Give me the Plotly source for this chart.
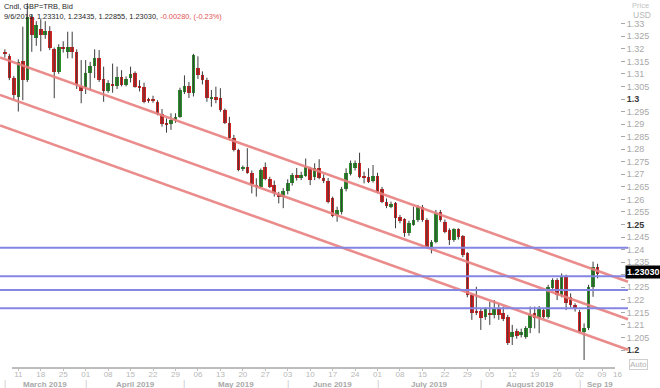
import pandas as pd
import plotly.graph_objects as go

# ---------------- data ----------------
dates = pd.bdate_range("2019-03-06", "2019-09-06")

opens = [
    1.3188, 1.3172, 1.3083,
    1.3009, 1.3152, 1.3076, 1.3328, 1.3242, 1.3278, 1.3255, 1.3272, 1.3198, 1.3109,
    1.3208, 1.3189, 1.3208, 1.3188, 1.3052, 1.3049, 1.3102, 1.3131, 1.3162, 1.3078,
    1.3033, 1.3060, 1.3052, 1.3089, 1.3056, 1.3082, 1.3102, 1.3052, 1.3047, 1.2998,
    1.2997, 1.2990, 1.2940, 1.2902, 1.2900, 1.2916, 1.2930, 1.3029, 1.3052, 1.3023,
    1.3122, 1.3096, 1.3076, 1.3003, 1.3009, 1.3003, 1.2956, 1.2906, 1.2843, 1.2797,
    1.2723, 1.2730, 1.2706, 1.2655, 1.2651, 1.2730, 1.2680, 1.2657, 1.2622, 1.2611,
    1.2635, 1.2667, 1.2697, 1.2686, 1.2695, 1.2724, 1.2690, 1.2724, 1.2684, 1.2675,
    1.2604, 1.2538, 1.2551, 1.2640, 1.2701, 1.2724, 1.2744, 1.2690, 1.2690, 1.2675,
    1.2693, 1.2640, 1.2591, 1.2571, 1.2584, 1.2529, 1.2521, 1.2465, 1.2498, 1.2518,
    1.2571, 1.2518, 1.2409, 1.2431, 1.2551, 1.2511, 1.2478, 1.2438, 1.2481, 1.2454,
    1.2385, 1.2219, 1.2152, 1.2157, 1.2130, 1.2145, 1.2139, 1.2166, 1.2146, 1.2133,
    1.2053, 1.2075, 1.2058, 1.2053, 1.2086, 1.2149, 1.2126, 1.2159, 1.2133, 1.2246,
    1.2279, 1.2219, 1.2292, 1.2212, 1.2179, 1.2153, 1.2073, 1.2086, 1.2252, 1.2331,
]
highs = [
    1.3198, 1.3180, 1.3092,
    1.3158, 1.3288, 1.3381, 1.3338, 1.3310, 1.3318, 1.3310, 1.3290, 1.3205, 1.3218,
    1.3230, 1.3268, 1.3268, 1.3198, 1.3155, 1.3155, 1.3148, 1.3198, 1.3195, 1.3129,
    1.3075, 1.3141, 1.3129, 1.3115, 1.3090, 1.3129, 1.3110, 1.3075, 1.3065, 1.3005,
    1.3013, 1.2995, 1.2960, 1.2923, 1.2943, 1.2943, 1.3045, 1.3094, 1.3068, 1.3180,
    1.3170, 1.3110, 1.3085, 1.3036, 1.3049, 1.3043, 1.2962, 1.2929, 1.2857, 1.2802,
    1.2735, 1.2804, 1.2715, 1.2684, 1.2723, 1.2747, 1.2690, 1.2675, 1.2630, 1.2645,
    1.2680, 1.2705, 1.2725, 1.2710, 1.2763, 1.2730, 1.2744, 1.2760, 1.2700, 1.2685,
    1.2611, 1.2571, 1.2650, 1.2724, 1.2755, 1.2755, 1.2786, 1.2710, 1.2724, 1.2737,
    1.2706, 1.2650, 1.2604, 1.2591, 1.2590, 1.2538, 1.2525, 1.2515, 1.2571, 1.2578,
    1.2578, 1.2525, 1.2438, 1.2558, 1.2558, 1.2520, 1.2485, 1.2485, 1.2485, 1.2458,
    1.2390, 1.2225, 1.2252, 1.2165, 1.2170, 1.2192, 1.2199, 1.2186, 1.2173, 1.2140,
    1.2100, 1.2085, 1.2085, 1.2095, 1.2173, 1.2173, 1.2175, 1.2165, 1.2260, 1.2286,
    1.2286, 1.2305, 1.2300, 1.2226, 1.2186, 1.2160, 1.2106, 1.2260, 1.2352, 1.23435,
]
lows = [
    1.3165, 1.3075, 1.2998,
    1.2950, 1.2995, 1.3068, 1.3188, 1.3212, 1.3190, 1.3240, 1.3195, 1.3003, 1.3100,
    1.3185, 1.3162, 1.3162, 1.3040, 1.2983, 1.3020, 1.3035, 1.3083, 1.3068, 1.2989,
    1.3025, 1.3025, 1.3040, 1.3050, 1.3050, 1.3066, 1.3045, 1.3030, 1.2983, 1.2985,
    1.2985, 1.2935, 1.2890, 1.2866, 1.2877, 1.2905, 1.2925, 1.3020, 1.3004, 1.3010,
    1.3080, 1.3058, 1.2989, 1.2969, 1.2983, 1.2949, 1.2900, 1.2837, 1.2791, 1.2712,
    1.2713, 1.2702, 1.2624, 1.2611, 1.2645, 1.2676, 1.2645, 1.2611, 1.2584, 1.2565,
    1.2620, 1.2655, 1.2675, 1.2677, 1.2690, 1.2657, 1.2677, 1.2680, 1.2665, 1.2584,
    1.2529, 1.2511, 1.2540, 1.2632, 1.2695, 1.2715, 1.2684, 1.2664, 1.2665, 1.2667,
    1.2624, 1.2585, 1.2565, 1.2565, 1.2485, 1.2505, 1.2451, 1.2455, 1.2495, 1.2510,
    1.2511, 1.2405, 1.2385, 1.2425, 1.2511, 1.2465, 1.2418, 1.2431, 1.2440, 1.2370,
    1.2210, 1.2120, 1.2139, 1.2080, 1.2120, 1.2100, 1.2126, 1.2120, 1.2115, 1.2020,
    1.2020, 1.2045, 1.2050, 1.2045, 1.2067, 1.2086, 1.2067, 1.2125, 1.2125, 1.2240,
    1.2199, 1.2210, 1.2159, 1.2170, 1.2153, 1.2067, 1.1960, 1.2080, 1.2212, 1.22855,
]
closes = [
    1.3178, 1.3083, 1.3016,
    1.3149, 1.3076, 1.3328, 1.3255, 1.3295, 1.3255, 1.3272, 1.3202, 1.3109, 1.3208,
    1.3198, 1.3208, 1.3189, 1.3056, 1.3033, 1.3102, 1.3131, 1.3162, 1.3076, 1.3033,
    1.3065, 1.3052, 1.3089, 1.3056, 1.3078, 1.3099, 1.3049, 1.3043, 1.2989, 1.2994,
    1.2992, 1.2942, 1.2900, 1.2897, 1.2916, 1.2930, 1.3036, 1.3052, 1.3023, 1.3175,
    1.3096, 1.3076, 1.3003, 1.3007, 1.2996, 1.2956, 1.2906, 1.2843, 1.2797, 1.2717,
    1.2727, 1.2706, 1.2661, 1.2651, 1.2717, 1.2680, 1.2651, 1.2624, 1.2611, 1.2635,
    1.2667, 1.2697, 1.2684, 1.2697, 1.2730, 1.2677, 1.2724, 1.2684, 1.2675, 1.2591,
    1.2534, 1.2558, 1.2640, 1.2704, 1.2746, 1.2744, 1.2688, 1.2688, 1.2670, 1.2693,
    1.2631, 1.2591, 1.2574, 1.2582, 1.2525, 1.2515, 1.2467, 1.2505, 1.2518, 1.2571,
    1.2518, 1.2412, 1.2431, 1.2547, 1.2518, 1.2471, 1.2438, 1.2481, 1.2451, 1.2378,
    1.2218, 1.2149, 1.2150, 1.2129, 1.2162, 1.2143, 1.2162, 1.2139, 1.2122, 1.2029,
    1.2073, 1.2055, 1.2073, 1.2086, 1.2139, 1.2126, 1.2166, 1.2133, 1.2252, 1.2279,
    1.2219, 1.2292, 1.2186, 1.2179, 1.2166, 1.2073, 1.2086, 1.2252, 1.2331, 1.2303,
]

# horizontal support / resistance levels
hline_levels = [1.2407, 1.2294, 1.2239, 1.2166]
# parallel trend channel: prices at two anchor dates
trend_anchor_dates = ["2019-03-11", "2019-09-06"]
trend_top = [1.31393, 1.23155]
trend_mid = [1.29899, 1.21661]
trend_bot = [1.28684, 1.20446]

last_price = 1.23030
header_1 = "Cndl, GBP=TRB, Bid"
header_2 = "9/6/2019, 1.23310, 1.23435, 1.22855, 1.23030, "
header_chg = "-0.00280, (-0.23%)"

y_ticks = [round(1.20 + 0.005 * i, 3) for i in range(27)]
major_ticks = [1.2, 1.25, 1.3]
month_names = {3: "March 2019", 4: "April 2019", 5: "May 2019", 6: "June 2019",
               7: "July 2019", 8: "August 2019", 9: "Sep 19"}

# ---------------- layout constants ----------------
W, H = 660, 388
ML, MR, MT, MB = 0, 40, 0, 20
PW = W - ML - MR
x_range = [-1.08, 137.0]
y_range = [1.19283, 1.33944]
line_end_paper = 628 / PW

FONT = "Liberation Sans, Arial, sans-serif"
RED, GREEN = "#d42222", "#2a8f2a"

idx = list(range(len(dates)))
pos = {d.strftime("%Y-%m-%d"): i for i, d in enumerate(dates)}

fig = go.Figure()

# wicks
wx, wy = [], []
for i, h, l in zip(idx, highs, lows):
    wx += [i, i, None]
    wy += [l, h, None]
fig.add_trace(go.Scatter(x=wx, y=wy, mode="lines", line=dict(color="#3c3c3c", width=1),
                         hoverinfo="skip"))

# bodies
bases, heights, cols = [], [], []
for o, c in zip(opens, closes):
    bases.append(min(o, c))
    heights.append(max(abs(c - o), 0.0004))
    cols.append(GREEN if c >= o else RED)
fig.add_trace(go.Bar(x=idx, y=heights, base=bases, width=0.8,
                     marker=dict(color=cols, line=dict(width=0)), hoverinfo="skip"))

shapes = []
# trend channel
span = x_range[1] - x_range[0]
i_end = x_range[0] + line_end_paper * span
for tl in (trend_top, trend_mid, trend_bot):
    i0, i1 = pos[trend_anchor_dates[0]], pos[trend_anchor_dates[1]]
    slope = (tl[1] - tl[0]) / (i1 - i0)
    ya = tl[0] + slope * (x_range[0] - i0)
    yb = tl[0] + slope * (i_end - i0)
    shapes.append(dict(type="line", xref="paper", yref="y", x0=0, x1=line_end_paper,
                       y0=ya, y1=yb, line=dict(color="rgba(232,128,128,0.9)", width=2.6)))
# horizontal levels
for lv in hline_levels:
    shapes.append(dict(type="line", xref="paper", yref="y", x0=0, x1=line_end_paper,
                       y0=lv, y1=lv, line=dict(color="#8585e2", width=2)))
# x axis baseline
shapes.append(dict(type="line", xref="paper", yref="paper", x0=12 / PW, x1=615 / PW,
                   y0=0, y1=0, line=dict(color="#7a7a7a", width=1)))

# x ticks: Mondays
ext_dates = pd.bdate_range("2019-03-06", "2019-09-20")
tickvals, ticktext = [], []
extra_ticks = []
for i, d in enumerate(ext_dates):
    if d.weekday() == 0:
        if x_range[0] <= i <= x_range[1]:
            tickvals.append(i)
            ticktext.append(d.strftime("%d"))
        else:
            extra_ticks.append((i, d.strftime("%d")))

annotations = []
for i, t in extra_ticks:
    annotations.append(dict(xref="paper", yref="paper", x=(i - x_range[0]) / span, y=0,
                            yanchor="middle", yshift=-6, text=t, showarrow=False,
                            font=dict(family=FONT, size=8, color="#b8b8b8")))

# month labels and separators
month_starts = []
for i, d in enumerate(ext_dates):
    if i == 0 or d.month != ext_dates[i - 1].month:
        month_starts.append((i, d.month))
for j, (i, m) in enumerate(month_starts):
    if m not in month_names:
        continue
    a = max(i, x_range[0])
    b = month_starts[j + 1][0] if j + 1 < len(month_starts) else x_range[1]
    b = min(b, x_range[1])
    if a >= x_range[1]:
        continue
    annotations.append(dict(xref="x", yref="paper", x=(a + b) / 2, y=0, yanchor="middle",
                            yshift=-16, text="<b>%s</b>" % month_names[m], showarrow=False,
                            font=dict(family=FONT, size=8, color="#a9a9a9")))
    if i > x_range[0]:
        annotations.append(dict(xref="x", yref="paper", x=i, y=0, yanchor="middle",
                                yshift=-16, text="|", showarrow=False,
                                font=dict(family=FONT, size=9, color="#c8c8c8")))

# header
annotations.append(dict(xref="paper", yref="paper", x=0, y=1, xanchor="left", yanchor="middle",
                        xshift=2, yshift=-6, text=header_1, showarrow=False,
                        font=dict(family=FONT, size=7.4, color="#262626")))
annotations.append(dict(xref="paper", yref="paper", x=0, y=1, xanchor="left", yanchor="middle",
                        xshift=2, yshift=-16,
                        text=header_2 + '<span style="color:#e05555">%s</span>' % header_chg,
                        showarrow=False, font=dict(family=FONT, size=7.4, color="#262626")))
# axis title
annotations.append(dict(xref="paper", yref="paper", x=1, y=1, xanchor="left", yanchor="top",
                        xshift=10, yshift=1, text="Price", showarrow=False,
                        font=dict(family=FONT, size=7.5, color="#c4c4c4")))
annotations.append(dict(xref="paper", yref="paper", x=1, y=1, xanchor="left", yanchor="middle",
                        xshift=11, yshift=-15, text="USD", showarrow=False,
                        font=dict(family=FONT, size=8.5, color="#b8b8b8")))
# last price box
annotations.append(dict(xref="paper", yref="y", x=1, y=last_price, xanchor="left",
                        yanchor="middle", xshift=5, yshift=2, text="<b>%.5f</b>" % last_price,
                        showarrow=False, bgcolor="#000000", borderpad=1,
                        font=dict(family=FONT, size=9, color="#ffffff")))
# auto box
annotations.append(dict(xref="paper", yref="paper", x=1, y=0, xanchor="left", yanchor="middle",
                        xshift=9, yshift=4, text="Auto", showarrow=False,
                        bordercolor="#cfcfcf", borderwidth=1, borderpad=0,
                        font=dict(family=FONT, size=8, color="#b0b0b0")))

ytext = []
for v in y_ticks:
    s = "%g" % v
    if abs(v - last_price) < 0.001:
        ytext.append("")  # hidden behind the last-price box
    elif any(abs(v - m) < 1e-9 for m in major_ticks):
        ytext.append('<span style="color:#3a3a3a"><b>%s</b></span>' % s)
    else:
        ytext.append(s)

fig.update_layout(
    width=W, height=H, margin=dict(l=ML, r=MR, t=MT, b=MB),
    paper_bgcolor="white", plot_bgcolor="white", showlegend=False,
    barmode="overlay", bargap=0,
    shapes=shapes, annotations=annotations,
    xaxis=dict(range=x_range, tickvals=tickvals, ticktext=ticktext, showgrid=False,
               zeroline=False, showline=False, ticks="outside", ticklen=2,
               tickcolor="#c0c0c0", tickfont=dict(family=FONT, size=8, color="#b8b8b8"),
               ticklabelstandoff=-4, fixedrange=True, automargin=False),
    yaxis=dict(range=y_range, side="right", tickvals=y_ticks, ticktext=ytext,
               showgrid=False, zeroline=False, showline=False, ticks="outside",
               ticklen=4, tickcolor="#a8a8a8", automargin=False,
               tickfont=dict(family=FONT, size=9, color="#a8a8a8"), fixedrange=True),
    hovermode=False,
)

fig.write_html(
    "out.html",
    config={"displayModeBar": False},
    post_script="document.body.style.margin='0px';document.body.style.padding='0px';"
                "document.body.style.overflow='hidden';",
)
